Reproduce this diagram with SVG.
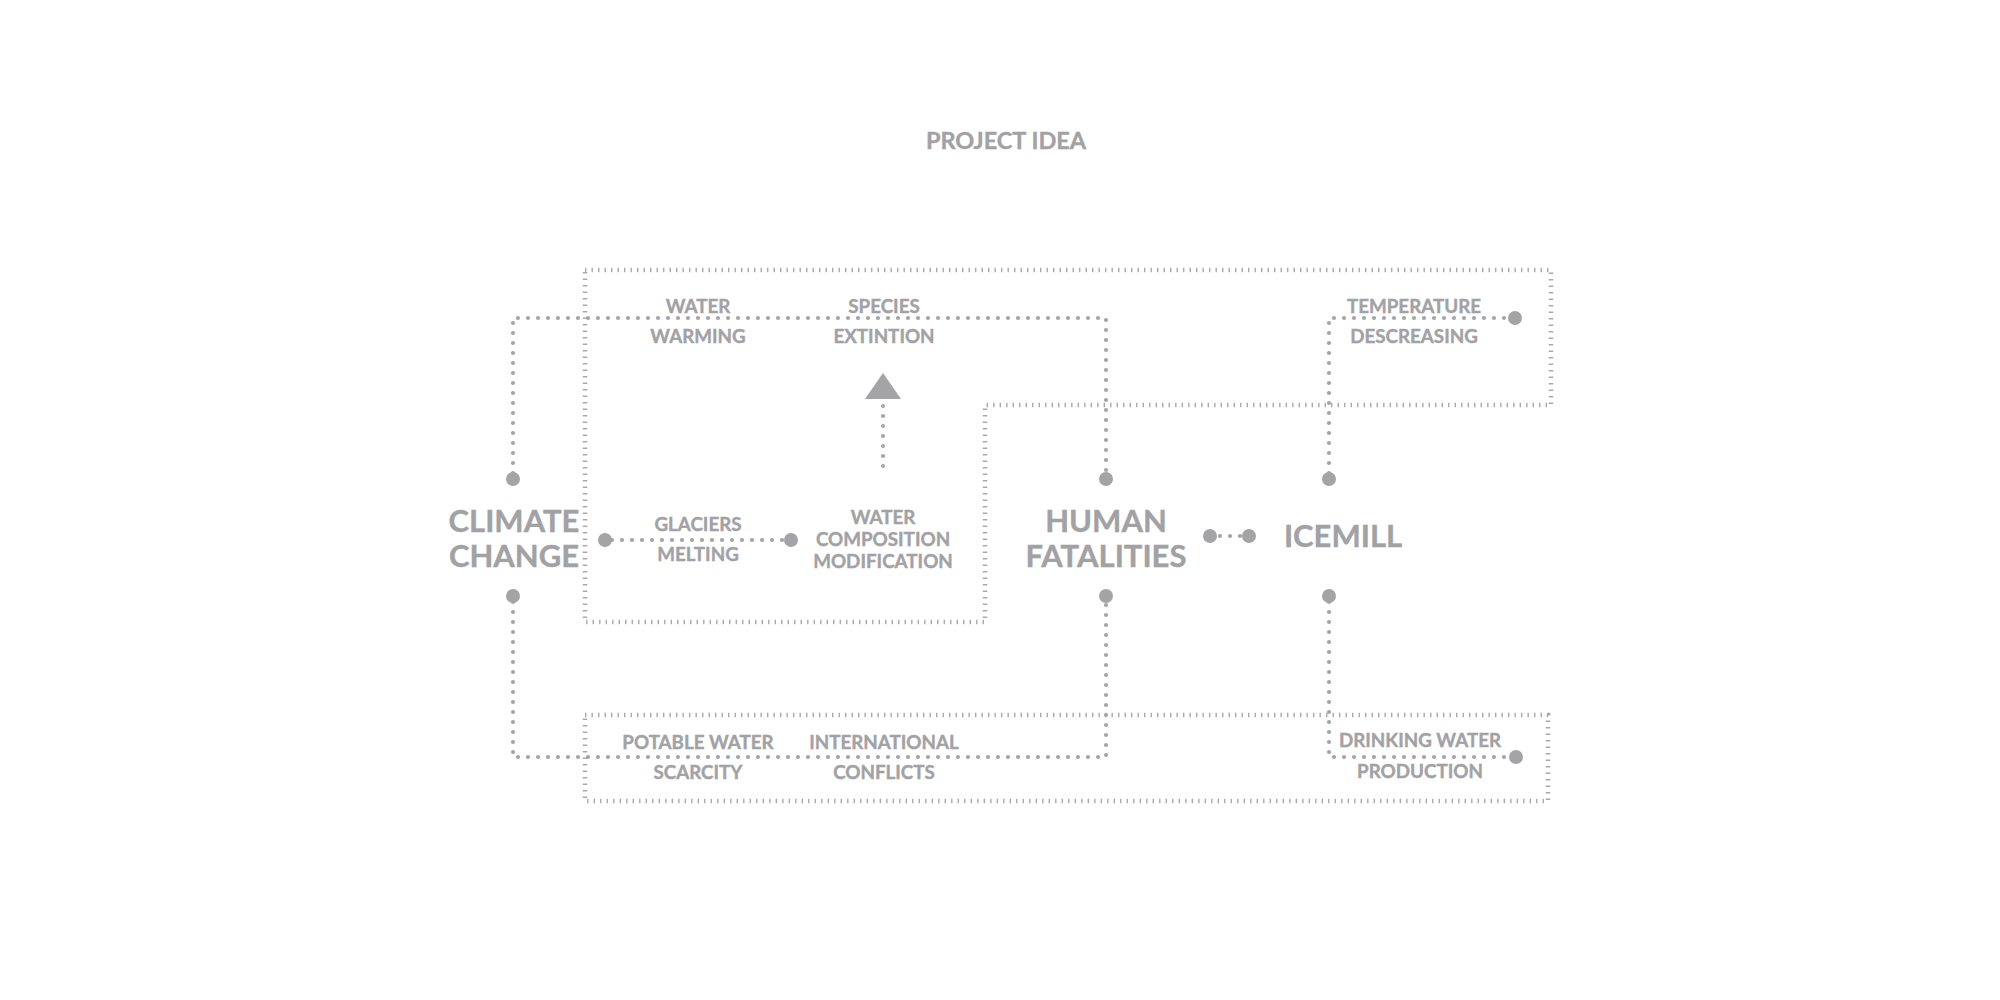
<svg xmlns="http://www.w3.org/2000/svg" width="2000" height="1000" viewBox="0 0 2000 1000">
<style>
  .t{font-family:Lato,"Open Sans","Liberation Sans",sans-serif;font-weight:700;fill:#a2a2a5;stroke:#a2a2a5;stroke-width:0.4;text-anchor:middle}
  .s{font-size:18.8px}
  .b{font-size:31px}
  .ttl{font-size:23.5px}
  .dot{fill:none;stroke:#a5a5a8;stroke-width:4.2;stroke-linecap:round;stroke-dasharray:0 10}
  .tick{fill:none;stroke:#a9a9ac;stroke-width:4.5;stroke-dasharray:1.4 5.1}
  .end{fill:#a4a4a7}
</style>
<rect width="2000" height="1000" fill="#ffffff"/>
<g id="title"><text class="t ttl" x="1006" y="149">PROJECT IDEA</text></g>

<g id="frames">
  <path class="tick" d="M585 270 H1551 V405 H985 V622 H585 Z"/>
  <path class="tick" d="M585 715 H1548 V801 H585 Z"/>
</g>

<g id="connectors">
  <path class="dot" d="M513 473 V318 H1106 V473"/>
  <path class="dot" d="M1329 473 V318 H1508"/>
  <path class="dot" d="M513 602 V757 H1106 V602"/>
  <path class="dot" d="M1329 602 V757 H1508"/>
  <path class="dot" d="M612 540 H784"/>
  <path class="dot" d="M1210 536 H1249"/>
  <path class="dot" d="M883 406 V468"/>
  <polygon class="end" points="883,373 901,399 865,399"/>
  <circle class="end" cx="513" cy="479" r="7"/>
  <circle class="end" cx="513" cy="596" r="7"/>
  <circle class="end" cx="1106" cy="479" r="7"/>
  <circle class="end" cx="1106" cy="596" r="7"/>
  <circle class="end" cx="1329" cy="479" r="7"/>
  <circle class="end" cx="1329" cy="596" r="7"/>
  <circle class="end" cx="1515" cy="318" r="7"/>
  <circle class="end" cx="1516" cy="757" r="7"/>
  <circle class="end" cx="605" cy="540" r="7"/>
  <circle class="end" cx="791" cy="540" r="7"/>
  <circle class="end" cx="1210" cy="536" r="7"/>
  <circle class="end" cx="1249" cy="536" r="7"/>
</g>

<g id="climate-change"><text class="t b" x="514" y="532">CLIMATE</text><text class="t b" x="514" y="567">CHANGE</text></g>
<g id="human-fatalities"><text class="t b" x="1106" y="532">HUMAN</text><text class="t b" x="1106" y="567">FATALITIES</text></g>
<g id="icemill"><text class="t b" x="1343" y="547">ICEMILL</text></g>
<g id="water-warming"><text class="t s" x="698" y="313">WATER</text><text class="t s" x="698" y="343">WARMING</text></g>
<g id="species-extintion"><text class="t s" x="884" y="313">SPECIES</text><text class="t s" x="884" y="343">EXTINTION</text></g>
<g id="temperature-descreasing"><text class="t s" x="1414" y="313">TEMPERATURE</text><text class="t s" x="1414" y="343">DESCREASING</text></g>
<g id="glaciers-melting"><text class="t s" x="698" y="531">GLACIERS</text><text class="t s" x="698" y="561">MELTING</text></g>
<g id="water-composition"><text class="t s" x="883" y="524">WATER</text><text class="t s" x="883" y="546">COMPOSITION</text><text class="t s" x="883" y="568">MODIFICATION</text></g>
<g id="potable-water"><text class="t s" x="698" y="749">POTABLE WATER</text><text class="t s" x="698" y="779">SCARCITY</text></g>
<g id="international-conflicts"><text class="t s" x="884" y="749">INTERNATIONAL</text><text class="t s" x="884" y="779">CONFLICTS</text></g>
<g id="drinking-water"><text class="t s" x="1420" y="747">DRINKING WATER</text><text class="t s" x="1420" y="778">PRODUCTION</text></g>
</svg>
